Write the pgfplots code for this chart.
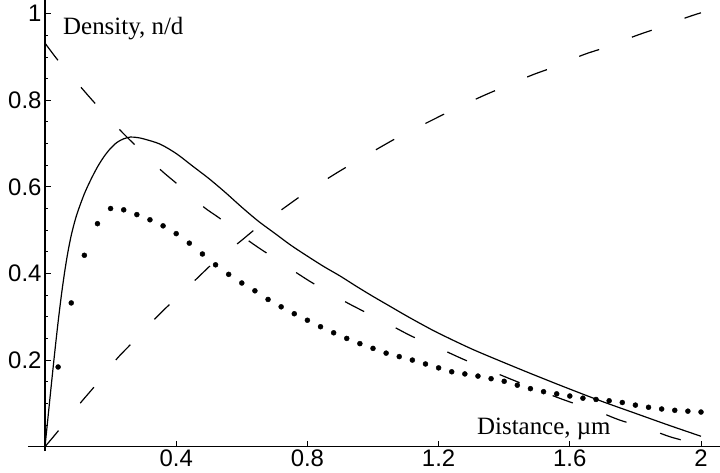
\documentclass[border=0pt]{standalone}
\usepackage{pgfplots}
\pgfplotsset{compat=1.18}
\usepackage{fontspec}
\setmainfont{Liberation Serif}
\newfontfamily\arialfont{Liberation Sans}

\begin{document}
\begin{tikzpicture}
\begin{axis}[
  name=ax,
  at={(0,0)}, anchor=south west,
  scale only axis, width=692.08bp, height=451.01bp,
  xmin=-0.052, xmax=2.058, ymin=-0.01, ymax=1.0316,
  axis lines=middle,
  axis line style={-, line width=1.1bp, black},
  xtick={0.4,0.8,1.2,1.6,2},
  ytick={0.2,0.4,0.6,0.8,1},
  minor ytick={0.05,0.1,0.15,0.25,0.3,0.35,0.45,0.5,0.55,0.65,0.7,0.75,0.85,0.9,0.95},
  tick align=inside,
  major tick length=6bp, minor tick length=3.5bp,
  every tick/.style={black, line width=0.9bp},
  ticklabel style={font=\arialfont\fontsize{24}{24}\selectfont},
  /pgf/number format/assume math mode=true,
  clip=false,
]
% solid curve
\addplot[black, line width=1.2bp, smooth] coordinates {
(0,0) (0.01,0.074) (0.02,0.148) (0.03,0.220) (0.04,0.288) (0.05,0.350)
(0.06,0.404) (0.07,0.450) (0.08,0.488) (0.09,0.518) (0.10,0.543) (0.12,0.584)
(0.14,0.617) (0.16,0.646) (0.18,0.670) (0.20,0.689) (0.22,0.703) (0.24,0.711)
(0.26,0.715) (0.28,0.714) (0.30,0.711) (0.35,0.699) (0.40,0.677) (0.45,0.648)
(0.50,0.619) (0.55,0.587) (0.60,0.553) (0.65,0.521) (0.70,0.493) (0.75,0.465)
(0.80,0.440) (0.85,0.416) (0.90,0.394) (0.95,0.370) (1.00,0.347) (1.05,0.325)
(1.10,0.303) (1.15,0.282) (1.20,0.262) (1.30,0.226) (1.40,0.194) (1.50,0.163)
(1.60,0.133) (1.70,0.104) (1.80,0.077) (1.90,0.050) (2.00,0.024)
};
% dotted series
\addplot[black, only marks, mark=*, mark size=2.5bp] coordinates {
(0.04,0.184) (0.08,0.332) (0.12,0.442) (0.16,0.515) (0.20,0.550) (0.24,0.547)
(0.28,0.536) (0.32,0.524) (0.36,0.510) (0.40,0.492) (0.44,0.470) (0.48,0.445)
(0.52,0.420) (0.56,0.398) (0.60,0.378) (0.64,0.360) (0.68,0.340) (0.72,0.323)
(0.76,0.307) (0.80,0.292) (0.84,0.277) (0.88,0.263) (0.92,0.250) (0.96,0.238)
(1.00,0.227) (1.04,0.216) (1.08,0.208) (1.12,0.200) (1.16,0.191) (1.20,0.182)
(1.24,0.173) (1.28,0.168) (1.32,0.163) (1.36,0.157) (1.40,0.151) (1.44,0.142)
(1.48,0.134) (1.52,0.127) (1.56,0.122) (1.60,0.117) (1.64,0.112) (1.68,0.109)
(1.72,0.106) (1.76,0.102) (1.80,0.096) (1.84,0.091) (1.88,0.087) (1.92,0.084)
(1.96,0.082) (2.00,0.080)
};
% descending dashed
\addplot[black, line width=1.2bp, dash pattern=on 21.5bp off 35.5bp, smooth] coordinates {
(0,0.932) (0.041,0.891) (0.112,0.828) (0.155,0.791) (0.229,0.731) (0.274,0.697)
(0.353,0.639) (0.401,0.608) (0.483,0.554) (0.537,0.525) (0.62,0.476) (0.676,0.447)
(0.762,0.404) (0.818,0.377) (0.91,0.337) (0.96,0.317) (1.06,0.278) (1.121,0.254)
(1.214,0.223) (1.275,0.202) (1.372,0.171) (1.433,0.152) (1.53,0.123) (1.59,0.106)
(1.687,0.081) (1.75,0.062) (1.847,0.039) (1.909,0.022) (2.0,0.004)
};
% ascending dashed
\addplot[black, line width=1.2bp, dash pattern=on 21bp off 35bp, smooth] coordinates {
(0,0) (0.041,0.037) (0.107,0.100) (0.152,0.140) (0.218,0.202) (0.266,0.240)
(0.34,0.299) (0.386,0.333) (0.464,0.389) (0.513,0.424) (0.597,0.475) (0.647,0.506)
(0.732,0.553) (0.788,0.583) (0.874,0.625) (0.933,0.652) (1.021,0.691) (1.08,0.716)
(1.172,0.751) (1.233,0.774) (1.326,0.807) (1.387,0.827) (1.484,0.858) (1.545,0.875)
(1.641,0.905) (1.704,0.921) (1.801,0.949) (1.862,0.965) (1.959,0.992) (2.0,1.002)
};
\node[anchor=base west, inner sep=0pt, font=\fontsize{25}{25}\selectfont] at (axis cs:0.055,0.951) {Density, n/d};
\node[anchor=base west, inner sep=0pt, font=\fontsize{25}{25}\selectfont] at (axis cs:1.317,0.029) {Distance, µm};
\end{axis}
\pgfresetboundingbox
\path[use as bounding box] (-27.94bp,-21.95bp) rectangle (692.06bp,451.0bp);
\end{tikzpicture}
\end{document}
